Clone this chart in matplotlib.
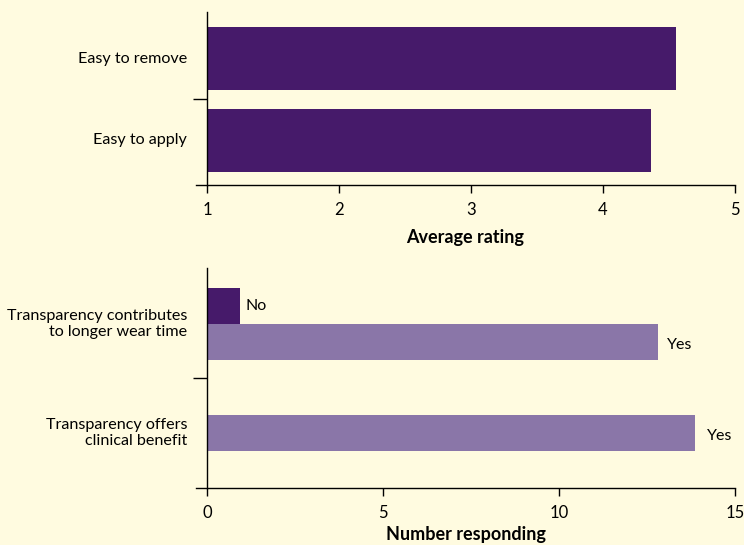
import matplotlib.pyplot as plt

# top panel: average ratings
rating_labels = ["Easy to apply", "Easy to remove"]
rating_values = [4.36, 4.55]

# bottom panel: number responding
resp_labels = ["Transparency offers\nclinical benefit", "Transparency contributes\nto longer wear time"]
resp_yes = [13.85, 12.8]
resp_no = [None, 0.95]

bg = "#fffbe0"
dark = "#461a6a"
light = "#8a76a8"

plt.rcParams['font.family'] = ['Lato', 'DejaVu Sans']

fig = plt.figure(figsize=(7.44, 5.45), dpi=100, facecolor=bg)

# ---- top chart
ax1 = fig.add_axes([196 / 744, 1 - 185 / 545, (735 - 196) / 744, (185 - 12) / 545])
ax1.set_facecolor(bg)
ax1.barh(range(len(rating_values)), [v - 1 for v in rating_values], left=1, height=0.77, color=dark)
ax1.set_xlim(1 - 11 / 132, 5)
ax1.set_ylim(-0.55, 1.57)
ax1.set_xticks([1, 2, 3, 4, 5])
ax1.set_xlabel("Average rating", fontsize=13, fontweight='bold', labelpad=8)
ax1.set_yticks([0.5])
ax1.set_yticklabels([""])
for i, lab in enumerate(rating_labels):
    ax1.text(1 - 20 / 132, i, lab, ha='right', va='center', fontsize=11.6)

# ---- bottom chart
ax2 = fig.add_axes([196 / 744, 1 - 488 / 545, (735 - 196) / 744, (488 - 268) / 545])
ax2.set_facecolor(bg)
h = 0.33
ax2.barh([0], [resp_yes[0]], height=h, color=light)
ax2.barh([1 - h / 2], [resp_yes[1]], height=h, color=light)
ax2.barh([1 + h / 2], [resp_no[1]], height=h, color=dark)
ax2.annotate("Yes", (resp_yes[0], 0), xytext=(9, -2), textcoords='offset points',
             ha='left', va='center', fontsize=11.5)
ax2.annotate("Yes", (resp_yes[1], 1 - h / 2), xytext=(7, -2), textcoords='offset points',
             ha='left', va='center', fontsize=11.5)
ax2.annotate("No", (resp_no[1], 1 + h / 2), xytext=(4, 0), textcoords='offset points',
             ha='left', va='center', fontsize=11.5)
ax2.set_xlim(-11 / 35.2, 15)
ax2.set_ylim(-0.505, 1.514)
ax2.set_xticks([0, 5, 10, 15])
ax2.set_xlabel("Number responding", fontsize=13, fontweight='bold', labelpad=4)
ax2.set_yticks([0.5])
ax2.set_yticklabels([""])
for i, lab in enumerate(resp_labels):
    ax2.text(-20 / 35.2, i, lab, ha='right', va='center', fontsize=11.6, linespacing=1.1)

for ax, x0 in ((ax1, 1), (ax2, 0)):
    ax.spines['top'].set_visible(False)
    ax.spines['right'].set_visible(False)
    ax.spines['left'].set_position(('data', x0))
    ax.tick_params(axis='x', direction='out', length=6, width=1, labelsize=12, pad=6)
    ax.tick_params(axis='y', direction='out', length=10, width=1)
    ax.spines['left'].set_linewidth(1)
    ax.spines['bottom'].set_linewidth(1)

fig.savefig("out.png", dpi=100, facecolor=bg)
